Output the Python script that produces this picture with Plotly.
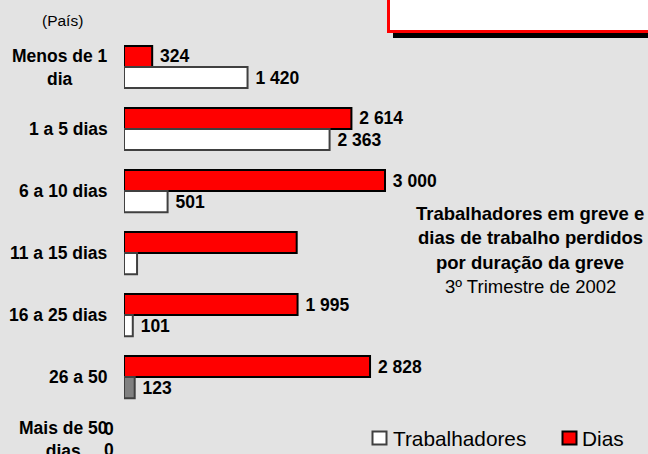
import plotly.graph_objects as go

# Data
categorias = ["Menos de 1<br>dia", "1 a 5 dias", "6 a 10 dias", "11 a 15 dias",
              "16 a 25 dias", "26 a 50", "Mais de 50<br>dias"]
dias = [324, 2614, 3000, 1985, 1995, 2828, 0]
trabalhadores = [1420, 2363, 501, 150, 101, 123, 0]
sem_rotulo = ["11 a 15 dias"]  # row printed without value labels
titulo = ["Trabalhadores em greve e", "dias de trabalho perdidos",
          "por duração da greve", "3º Trimestre de 2002"]

W, H = 648, 454
FONT = "Arial, Liberation Sans, sans-serif"
BG = "#E3E3E3"


def fmt(v):
    return f"{v:,}".replace(",", "\u00a0")


def rotulos(vals):
    out = []
    for c, v in zip(categorias, vals):
        if c in sem_rotulo or v == 0:
            out.append("")
        else:
            out.append("\u00a0" + fmt(v))
    return out


def contorno(vals):
    # no outline on empty bars, otherwise a stray stroke shows on the axis
    return [0 if v == 0 else 2 for v in vals]


def px(x):
    return x / W


def py(y):
    return (H - y) / H


cor_trab = ["#808080" if c == "26 a 50" else "white" for c in categorias]

fig = go.Figure()
fig.add_trace(go.Bar(
    y=categorias, x=dias, orientation="h", name="Dias",
    marker=dict(color="#FF0000", line=dict(color="black", width=contorno(dias))),
    text=rotulos(dias), textposition="outside", cliponaxis=False,
    textfont=dict(family=FONT, size=17.5, color="black", weight="bold"),
))
fig.add_trace(go.Bar(
    y=categorias, x=trabalhadores, orientation="h", name="Trabalhadores",
    marker=dict(color=cor_trab, line=dict(color="#404040", width=contorno(trabalhadores))),
    text=rotulos(trabalhadores), textposition="outside", cliponaxis=False,
    textfont=dict(family=FONT, size=17.5, color="black", weight="bold"),
))

anns = []
# category labels
for c in categorias:
    anns.append(dict(x=px(110), xref="paper", y=c, yref="y", text=c,
                     xanchor="right", yanchor="middle", align="center",
                     showarrow=False,
                     font=dict(family=FONT, size=17.5, color="black", weight="bold")))
# zero values are written left of the axis
for c, d, t in zip(categorias, dias, trabalhadores):
    for v, shift in ((d, 10.5), (t, -10.5)):
        if v == 0:
            anns.append(dict(x=0, xref="x", y=c, yref="y", text=fmt(v),
                             xanchor="right", yanchor="middle", xshift=-8,
                             yshift=shift, showarrow=False,
                             font=dict(family=FONT, size=17.5, color="black",
                                       weight="bold")))
# unit note
anns.append(dict(x=px(62), y=py(20), xref="paper", yref="paper", text="(País)",
                 showarrow=False, xanchor="center", yanchor="middle",
                 font=dict(family=FONT, size=15.5, color="black")))
# title block
for i, linha in enumerate(titulo):
    anns.append(dict(x=px(530), y=py(213 + 24.5 * i), xref="paper", yref="paper",
                     text=linha, showarrow=False, xanchor="center", yanchor="middle",
                     font=dict(family=FONT, size=18.5, color="black",
                               weight="normal" if i == 3 else "bold")))
# legend
anns.append(dict(x=px(391), y=py(438), xref="paper", yref="paper", text="Trabalhadores",
                 showarrow=False, xanchor="left", yanchor="middle",
                 font=dict(family=FONT, size=20.8, color="black")))
anns.append(dict(x=px(580), y=py(438), xref="paper", yref="paper", text="Dias",
                 showarrow=False, xanchor="left", yanchor="middle",
                 font=dict(family=FONT, size=20.8, color="black")))

shapes = [
    # box at top right (shadow, then box)
    dict(type="rect", xref="paper", yref="paper", x0=px(393), x1=1.05,
         y0=py(38), y1=py(28), fillcolor="black", line=dict(width=0)),
    dict(type="rect", xref="paper", yref="paper", x0=px(388.5), x1=1.05,
         y0=py(31.5), y1=1.05, fillcolor="white", line=dict(color="#FF0000", width=3)),
    # legend keys
    dict(type="rect", xref="paper", yref="paper", x0=px(372.5), x1=px(386.5),
         y0=py(444.5), y1=py(431.5), fillcolor="white", line=dict(color="#404040", width=2)),
    dict(type="rect", xref="paper", yref="paper", x0=px(562.5), x1=px(576.5),
         y0=py(444.5), y1=py(431.5), fillcolor="#FF0000", line=dict(color="black", width=2)),
]

fig.update_layout(
    width=W, height=H,
    margin=dict(l=0, r=0, t=0, b=0),
    paper_bgcolor=BG, plot_bgcolor=BG,
    barmode="group", bargap=0.32, bargroupgap=0,
    showlegend=False,
    annotations=anns, shapes=shapes,
    font=dict(family=FONT, color="black"),
    xaxis=dict(domain=[px(124), 1], range=[0, 6023], visible=False, fixedrange=True),
    yaxis=dict(domain=[0, py(36)], type="category", categoryorder="array",
               categoryarray=categorias, range=[6.24, -0.5],
               showticklabels=False, showgrid=False, zeroline=False,
               showline=False, ticks="", fixedrange=True),
)

# the page's default body margin would push the chart off its 648x454 window
fig.write_html("out.html", config={"displayModeBar": False},
               post_script="document.body.style.margin='0';"
                           "document.body.style.overflow='hidden';")
